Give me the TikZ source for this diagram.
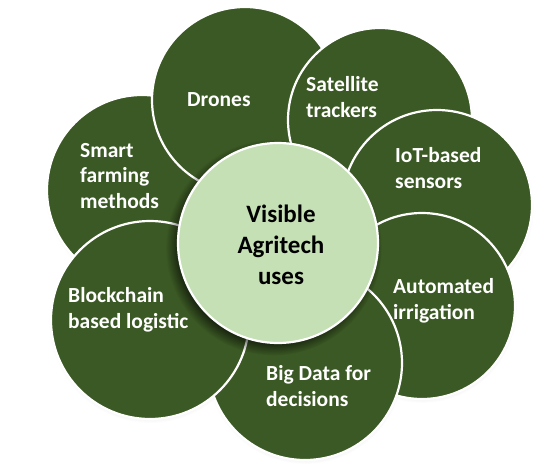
\documentclass[tikz,border=0pt]{standalone}
\usepackage{fontspec}
\setmainfont{Carlito}
\usetikzlibrary{shadows,fadings}
\definecolor{petalgreen}{RGB}{59,89,36}
\definecolor{hubgreen}{RGB}{198,224,181}
\tikzset{
  petal/.style={circle, fill=petalgreen, draw=white, line width=2.2pt,
    inner sep=0pt, outer sep=0pt, minimum size=#1,
    circular drop shadow={shadow xshift=0pt, shadow yshift=-2pt, shadow scale=1.02, opacity=0.25}},
  hub/.style={circle, fill=hubgreen, draw=white, line width=2.2pt,
    inner sep=0pt, outer sep=0pt, minimum size=#1,
    circular drop shadow={shadow xshift=-4pt, shadow yshift=-4pt, shadow scale=1.08, opacity=0.7, fill=black}},
  petaltext/.style={text=white, font=\fontsize{21.5}{25.5}\selectfont\bfseries,
    align=left, anchor=base west, inner sep=0pt},
  hubtext/.style={text=black, font=\fontsize{25}{31}\selectfont\bfseries,
    align=center, anchor=base, inner sep=0pt}
}
\begin{document}
\begin{tikzpicture}[x=1pt, y=-1pt]
\useasboundingbox (0,0) rectangle (550,467);
\node[petal=190pt] (smart)  at (142,190) {};
\node[petal=186pt] (drones) at (245,100) {};
\node[petal=184pt] (sat)    at (380,120) {};
\node[petal=190pt] (iot)    at (437,205) {};
\node[petal=186pt] (auto)   at (422,306) {};
\node[petal=194pt] (big)    at (305,363) {};
\node[petal=198pt] (block)  at (150,320) {};
\node[hub=200pt]   (hub)    at (278,243) {};
% base anchor of a multi-line node = baseline of its last line
\node[petaltext] (tsmart)  at (80,208)  {Smart\\farming\\methods};
\node[petaltext] (tdrones) at (187,106) {Drones};
\node[petaltext] (tsat)    at (306,117) {Satellite\\trackers};
\node[petaltext] (tiot)    at (395,188) {IoT-based\\sensors};
\node[petaltext] (tauto)   at (393,319) {Automated\\irrigation};
\node[petaltext] (tbig)    at (266,406) {Big Data for\\decisions};
\node[petaltext] (tblock)  at (68,328)  {Blockchain\\based logistic};
\node[hubtext]   (thub)    at (281,284) {Visible\\Agritech\\uses};
\end{tikzpicture}
\end{document}
